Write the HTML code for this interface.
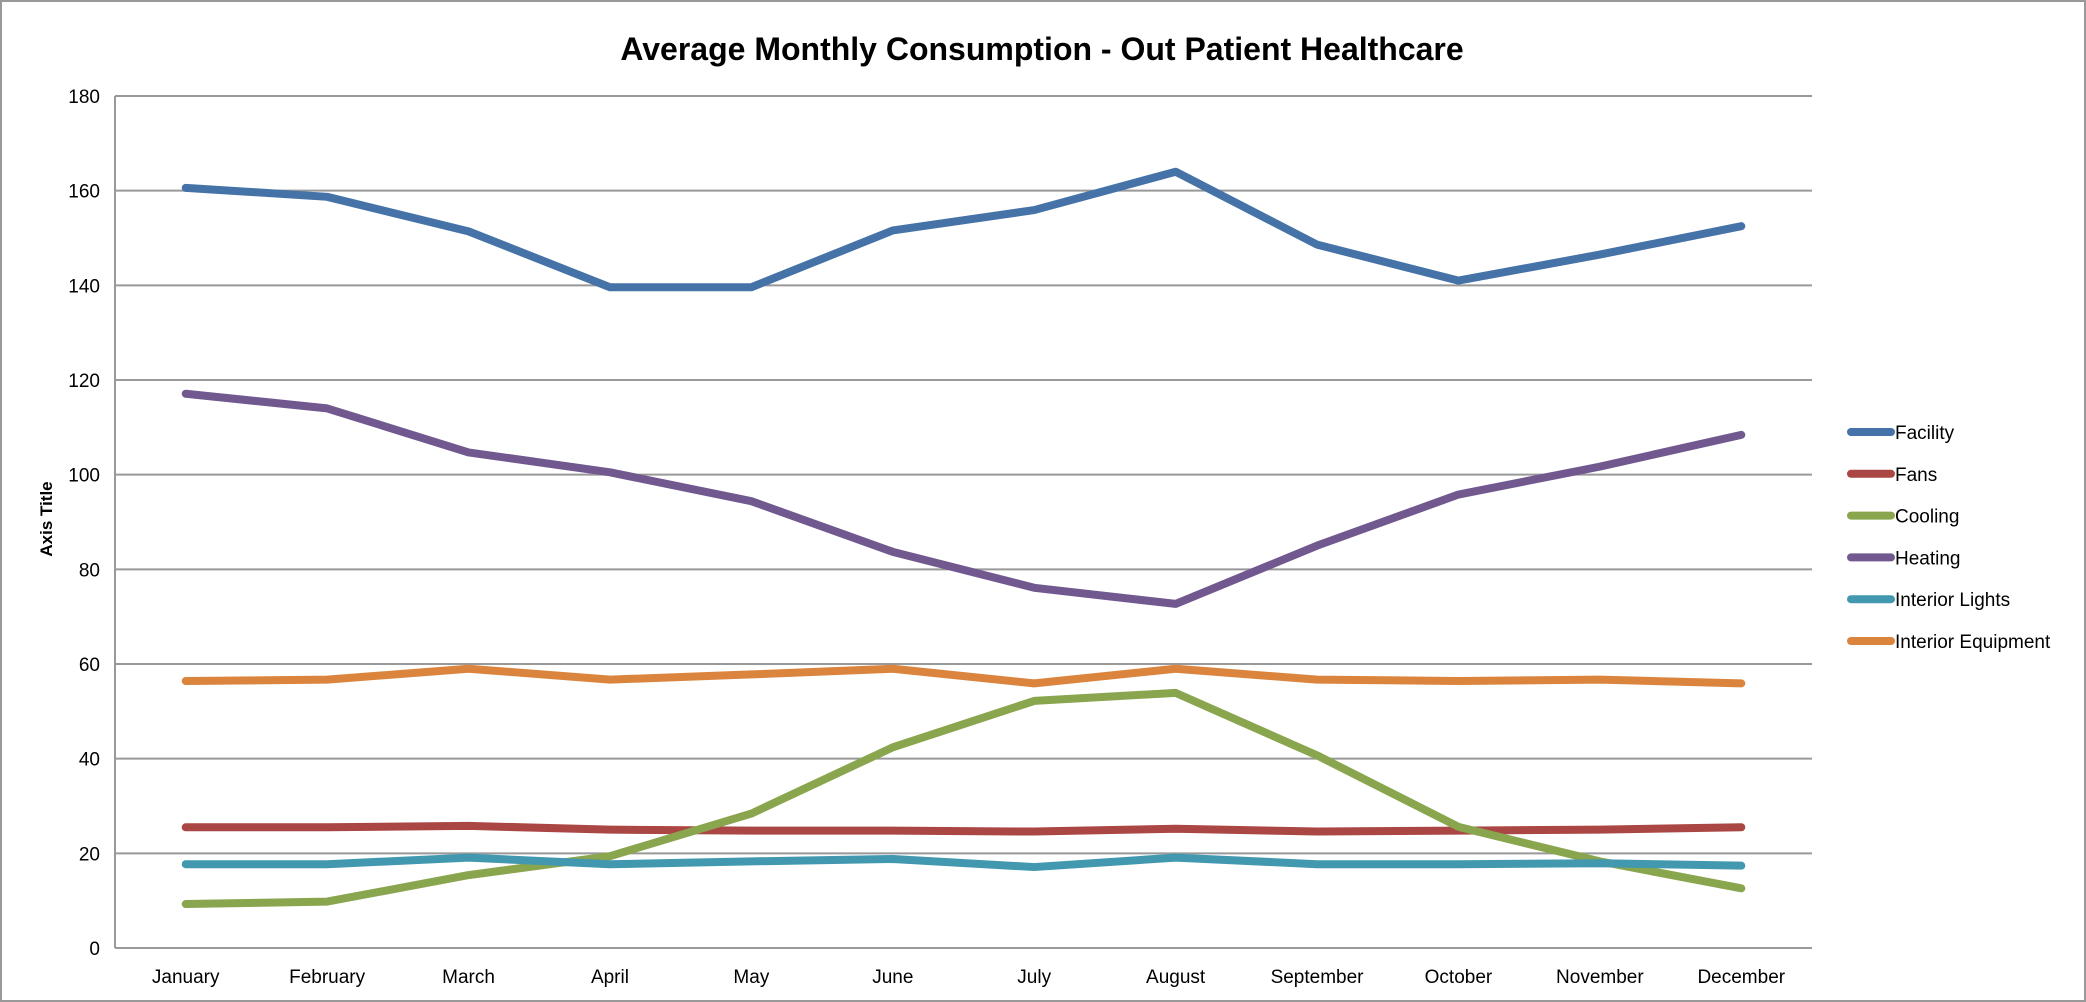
<!DOCTYPE html>
<html><head><meta charset="utf-8"><style>
html,body{margin:0;padding:0;background:#fff}
svg{display:block}
text{font-family:"Liberation Sans",sans-serif;fill:#000}
</style></head><body>
<svg id="chart" width="2086" height="1002">
<rect x="1" y="1" width="2084" height="1000" fill="#fff" stroke="#999" stroke-width="2"/>
<text x="1042" y="60" text-anchor="middle" font-size="32" font-weight="bold">Average Monthly Consumption - Out Patient Healthcare</text>
<text transform="translate(52,519) rotate(-90)" text-anchor="middle" font-size="17" font-weight="bold">Axis Title</text>
<g id="grid"></g><g id="series"></g><g id="legend"></g>
</svg>
<script>
const months=["January","February","March","April","May","June","July","August","September","October","November","December"];
const yTicks=[0,20,40,60,80,100,120,140,160,180];
const seriesNames=["Facility","Fans","Cooling","Heating","Interior Lights","Interior Equipment"];
const facility=[160.6,158.7,151.4,139.6,139.6,151.6,155.9,164,148.6,141,146.5,152.5];
const fans=[25.5,25.5,25.8,25,24.8,24.8,24.6,25.2,24.6,24.8,25,25.5];
const cooling=[9.3,9.8,15.4,19.4,28.4,42.4,52.2,53.9,40.7,25.6,18.3,12.6];
const heating=[117.1,114,104.7,100.5,94.4,83.7,76.1,72.7,85,95.8,101.7,108.4];
const lights=[17.7,17.7,19.1,17.7,18.3,18.8,17.1,19.1,17.7,17.7,17.9,17.4];
const equipment=[56.4,56.7,59,56.7,57.8,59,55.9,59,56.7,56.4,56.7,55.9];
const colors=["#4573A7","#AA4644","#89A54E","#71588F","#4198AF","#DB843D"];
const allSeries=[facility,fans,cooling,heating,lights,equipment];
const L=115,R=1812,T=96,B=948,yMax=180;
const step=(R-L)/months.length;
const x=i=>L+step*(i+0.5);
const y=v=>B-(v/yMax)*(B-T);
const NS="http://www.w3.org/2000/svg";
function mk(tag,attrs,parent,txt){const e=document.createElementNS(NS,tag);for(const k in attrs)e.setAttribute(k,attrs[k]);if(txt!==undefined)e.textContent=txt;parent.appendChild(e);return e;}
const grid=document.getElementById('grid');
yTicks.forEach(t=>{
  const ln=mk('line',{x1:L,x2:R,y1:y(t),y2:y(t),stroke:'#999','stroke-width':2},grid);
  
  
  const lb=mk('text',{x:L-15,y:y(t)+7,'text-anchor':'end','font-size':19},grid,String(t));
  
  
});
const ax=mk('line',{x1:L,x2:L,y1:T,y2:B,stroke:'#999','stroke-width':2},grid);


months.forEach((m,i)=>{
  const lb=mk('text',{x:x(i),y:983,'text-anchor':'middle','font-size':19},grid,m);
  
  
});
const sg=document.getElementById('series');
allSeries.forEach((d,s)=>{
  const p=mk('polyline',{points:d.map((v,i)=>x(i)+','+y(v)).join(' '),fill:'none',stroke:colors[s],'stroke-width':8,'stroke-linejoin':'round','stroke-linecap':'round'},sg);
  
  
});
const lg=document.getElementById('legend');
seriesNames.forEach((n,s)=>{
  const yy=432+s*41.8;
  const g=mk('g',{},lg);
  
  
  mk('line',{x1:1851,x2:1891,y1:yy,y2:yy,stroke:colors[s],'stroke-width':8,'stroke-linecap':'round'},g);
  mk('text',{x:1895,y:yy+7,'font-size':19},g,n);
});
</script>
</body></html>
